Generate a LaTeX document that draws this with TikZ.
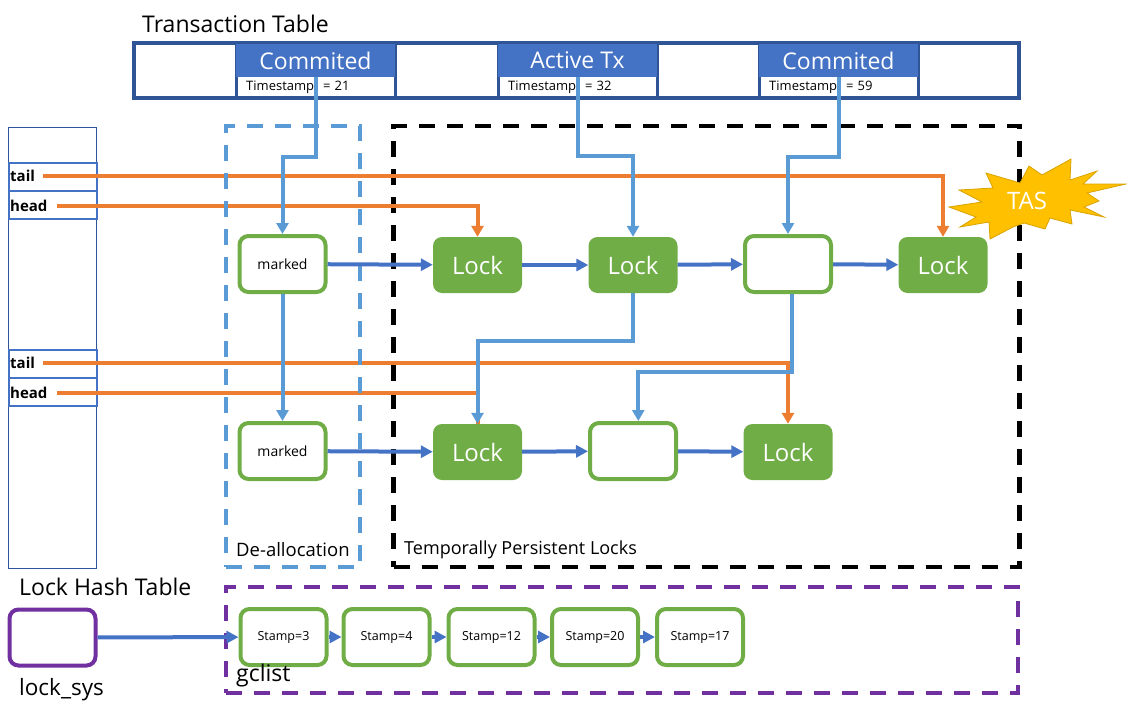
\documentclass[tikz,border=0pt]{standalone}
\usepackage{fontspec}
\setmainfont{Open Sans}
\usetikzlibrary{arrows.meta}

\definecolor{tablecol}{HTML}{2F5597}
\definecolor{headcol}{HTML}{4472C4}
\definecolor{skycol}{HTML}{5B9BD5}
\definecolor{orangecol}{HTML}{ED7D31}
\definecolor{greencol}{HTML}{70AD47}
\definecolor{purplecol}{HTML}{7030A0}
\definecolor{goldcol}{HTML}{FFC000}

\tikzset{
    fsize/.style={font=\fontsize{#1}{#1}\selectfont},
    plain/.style={inner sep=0pt, anchor=west, fsize=#1},
    lockbox/.style={rectangle, rounded corners=9pt, fill=greencol, text=white, minimum width=89pt, minimum height=56pt, fsize=24},
    hollowbox/.style={rectangle, rounded corners=9pt, draw=greencol, line width=4pt, fill=white, minimum width=86pt, minimum height=56pt, fsize=14},
    stampbox/.style={hollowbox, fsize=12.5},
    regionbox/.style={rectangle, draw=#1, line width=4pt, dash pattern=on 16pt off 12pt},
    nextarrow/.style={draw=headcol, line width=4pt, -{Triangle[length=12pt,width=12pt]}},
    linkarrow/.style={draw=skycol, line width=4pt, -{Triangle[length=11pt,width=12pt]}},
    ptrarrow/.style={draw=orangecol, line width=4pt, -{Triangle[length=11pt,width=12pt]}},
    ptrline/.style={draw=orangecol, line width=4pt},
    slotbox/.style={rectangle, draw=headcol, line width=2pt, minimum width=88pt},
}

\begin{document}
\begin{tikzpicture}[x=1pt, y=-1pt]
    \useasboundingbox (0,0) rectangle (1127,718);

    % Transaction table
    \node[plain=23] (title-tx) at (142,24) {Transaction Table};
    \node[rectangle, draw=tablecol, line width=3.5pt, minimum width=885pt, minimum height=55pt] (tx-table) at (576.5,70.5) {};
    \foreach \n/\x/\name/\stamp in {a/315.5/Commited/21, b/577.5/Active Tx/32, c/838.5/Commited/59} {
        \node[rectangle, draw=tablecol, line width=3pt, minimum width=159pt, minimum height=55pt] (cell-\n) at (\x,70.5) {};
        \node[rectangle, fill=headcol, text=white, minimum width=159pt, minimum height=33pt, inner sep=0pt, fsize=23] (state-\n) at (\x,60.5) {\name};
        \node[plain=13] (stamp-\n) at (\x-69.5,87) {Timestamp\hspace{9pt}=\hspace{4pt}\stamp};
    }

    % Lock hash table on the left
    \node[rectangle, draw=tablecol, line width=1pt, minimum width=88pt, minimum height=441pt] (hash) at (52.5,347.5) {};
    \foreach \n/\ta/\ha in {a/177/205, b/363.5/392} {
        \node[slotbox, minimum height=28pt] (tail-\n) at (52.5,\ta) {};
        \node[slotbox, minimum height=28pt] (head-\n) at (52.5,\ha) {};
        \node[plain=15, font=\bfseries\fontsize{15}{15}\selectfont] (taillabel-\n) at (10,\ta-1) {tail};
        \node[plain=15, font=\bfseries\fontsize{15}{15}\selectfont] (headlabel-\n) at (10,\ha+1) {head};
        \coordinate (tailout-\n) at (43,\ta-1);
        \coordinate (headout-\n) at (57,\ha+1);
    }

    % Regions
    \node[regionbox=black, line width=4.5pt, minimum width=626pt, minimum height=441pt] (persist) at (706.5,346.5) {};

    % First row of locks
    \node[hollowbox] (mark-a) at (282.5,264) {marked};
    \node[lockbox] (lock-a) at (477.5,265) {Lock};
    \node[lockbox] (lock-b) at (633,265) {Lock};
    \node[hollowbox] (free-a) at (788,264) {};
    \node[lockbox] (lock-c) at (943,265) {Lock};

    % Second row of locks
    \node[hollowbox] (mark-b) at (282.5,451) {marked};
    \node[lockbox] (lock-d) at (477.5,452) {Lock};
    \node[hollowbox] (free-b) at (633,451) {};
    \node[lockbox] (lock-e) at (788,452) {Lock};

    % Pointers from the hash table
    \draw[ptrarrow] (tailout-a) -| (lock-c.north);
    \draw[ptrarrow] (headout-a) -| (lock-a.north);
    \draw[ptrarrow] (tailout-b) -| (lock-e.north);
    \draw[ptrline] (headout-b) -| (lock-d.north);

    \node[regionbox=skycol, minimum width=134pt, minimum height=441pt] (dealloc) at (293,346.5) {};
    \node[regionbox=purplecol, minimum width=792pt, minimum height=106pt] (gcbox) at (622,640) {};

    % TAS burst
    \draw[draw=goldcol!85!black, fill=goldcol, line width=0.8pt] (949,207) -- (982,202) -- (959,190) -- (993,188) -- (986,173) -- (1020,183) -- (1029,166) -- (1042,175) -- (1071,159) -- (1070,180) -- (1097,171) -- (1083,184) -- (1126,184) -- (1087,193) -- (1099,201) -- (1084,207) -- (1104,217) -- (1070,210) -- (1072,224) -- (1050,218) -- (1045,229) -- (1024,223) -- (1013,227) -- (990,239) -- (989,222) -- (960,227) -- (976,217) -- cycle;
    \node[text=white, inner sep=0pt, fsize=24] (tas) at (1027,201) {TAS};

    % Next pointers
    \draw[nextarrow] (mark-a) -- (lock-a);
    \draw[nextarrow] (lock-a) -- (lock-b);
    \draw[nextarrow] (lock-b) -- (free-a);
    \draw[nextarrow] (free-a) -- (lock-c);
    \draw[nextarrow] (mark-b) -- (lock-d);
    \draw[nextarrow] (lock-d) -- (free-b);
    \draw[nextarrow] (free-b) -- (lock-e);

    % Links from transactions and between rows
    \draw[linkarrow] (state-a.south) -- ++(0,80) -| (mark-a.north);
    \draw[linkarrow] (state-b.south) -- ++(0,79) -| (lock-b.north);
    \draw[linkarrow] (state-c.south) -- ++(0,80) -| (free-a.north);
    \draw[linkarrow] (mark-a) -- (mark-b);
    \draw[linkarrow] (lock-b.south) -- ++(0,48) -| (lock-d.north);
    \draw[linkarrow] (free-a.-82) -- ++(0,78) -| (free-b.80);

    % Garbage list
    \node[draw=purplecol, rectangle, rounded corners=9pt, line width=4pt, minimum width=86pt, minimum height=56pt] (locksys) at (52.5,637.5) {};
    \foreach \n/\x/\val in {a/283.5/3, b/386.5/4, c/491.5/12, d/595/20, e/700/17}
        \node[stampbox] (gc-\n) at (\x,637) {Stamp=\val};
    \draw[nextarrow] (locksys) -- (gc-a);
    \draw[nextarrow] (gc-a) -- (gc-b);
    \draw[nextarrow] (gc-b) -- (gc-c);
    \draw[nextarrow] (gc-c) -- (gc-d);
    \draw[nextarrow] (gc-d) -- (gc-e);

    % Captions
    \node[plain=18.5] (cap-dealloc) at (236,550) {De-allocation};
    \node[plain=18] (cap-persist) at (404,550) {Temporally Persistent Locks};
    \node[plain=23] (cap-hash) at (19,587) {Lock Hash Table};
    \node[plain=22.5] (cap-sys) at (19,690) {lock\_sys};
    \node[plain=23] (cap-gc) at (236,676) {gclist};
\end{tikzpicture}
\end{document}
